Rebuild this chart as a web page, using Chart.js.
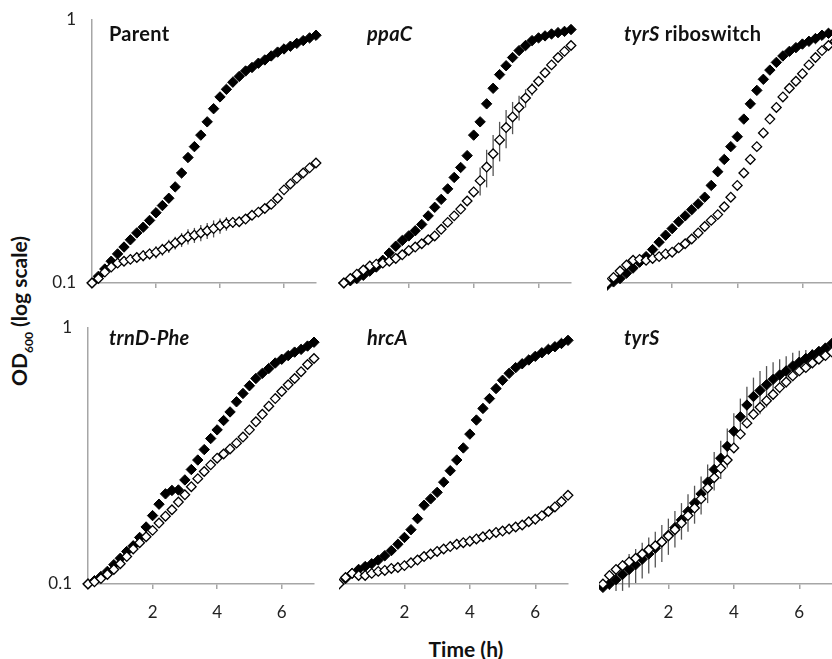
<!DOCTYPE html>
<html>
<head>
<meta charset="utf-8">
<script src="https://cdn.jsdelivr.net/npm/chart.js@4"></script>
<style>
  body { margin: 0; background: #fff; width: 832px; height: 659px; overflow: hidden; position: relative; font-family: Lato, sans-serif; }
  canvas { position: absolute; }
  .ttl { position: absolute; font: bold 20px Lato, sans-serif; letter-spacing: 0.3px; color: #111; white-space: nowrap; line-height: 22px; }
  #xtitle { position: absolute; left: 466px; top: 648px; transform: translate(-50%, -50%); font: bold 21px Lato, sans-serif; color: #111; white-space: nowrap; }
  #ytitle { position: absolute; left: 21px; top: 311px; transform: translate(-50%, -50%) rotate(-90deg); font: bold 21px Lato, sans-serif; color: #111; white-space: nowrap; }
  #ytitle sub { font-size: 12px; }
</style>
</head>
<body>
<div id="xtitle">Time (h)</div>
<div id="ytitle">OD<sub>600</sub> (log scale)</div>
<script>
'use strict';

// sampling times (h)
const hours = [0, 0.2, 0.4, 0.6, 0.8, 1, 1.2, 1.4, 1.6, 1.8, 2, 2.2, 2.4, 2.6, 2.8, 3, 3.2, 3.4,
               3.6, 3.8, 4, 4.2, 4.4, 4.6, 4.8, 5, 5.2, 5.4, 5.6, 5.8, 6, 6.2, 6.4, 6.6, 6.8, 7];

const xTicks = [2, 4, 6];
const yTicks = [0.1, 1];

// Parent
const parentFilled = [0.100, 0.106, 0.113, 0.121, 0.129, 0.137, 0.146, 0.155, 0.163, 0.173, 0.185, 0.197,
                      0.210, 0.232, 0.262, 0.300, 0.330, 0.365, 0.410, 0.460, 0.510, 0.545, 0.580, 0.610,
                      0.640, 0.660, 0.685, 0.705, 0.730, 0.755, 0.776, 0.795, 0.815, 0.835, 0.855, 0.875];
const parentOpen = [0.100, 0.104, 0.110, 0.115, 0.119, 0.121, 0.123, 0.125, 0.127, 0.129, 0.131, 0.134,
                    0.138, 0.142, 0.146, 0.150, 0.152, 0.155, 0.158, 0.161, 0.165, 0.168, 0.170, 0.171,
                    0.175, 0.181, 0.186, 0.192, 0.199, 0.210, 0.226, 0.238, 0.250, 0.262, 0.274, 0.286];
const parentOpenErr = [0, 0, 0, 0, 0, 0, 0, 0, 0.006, 0.006, 0.007, 0.007, 0.008, 0.008, 0.009, 0.010,
                       0.010, 0.011, 0.011, 0.012, 0.011, 0.010, 0.008, 0, 0, 0, 0, 0, 0, 0, 0, 0, 0, 0, 0, 0];

// ppaC
const ppaCFilled = [0.100, 0.102, 0.104, 0.107, 0.111, 0.115, 0.122, 0.130, 0.138, 0.145, 0.151, 0.158,
                    0.167, 0.180, 0.194, 0.208, 0.228, 0.252, 0.275, 0.305, 0.365, 0.410, 0.480, 0.550,
                    0.620, 0.670, 0.720, 0.765, 0.800, 0.835, 0.855, 0.870, 0.885, 0.895, 0.905, 0.920];
const ppaCOpen = [0.100, 0.104, 0.108, 0.112, 0.116, 0.118, 0.119, 0.121, 0.124, 0.128, 0.133, 0.137,
                  0.141, 0.146, 0.151, 0.160, 0.170, 0.180, 0.191, 0.205, 0.222, 0.245, 0.276, 0.310,
                  0.350, 0.390, 0.428, 0.465, 0.505, 0.545, 0.585, 0.630, 0.675, 0.720, 0.760, 0.800];
const ppaCOpenErr = [0, 0, 0, 0, 0, 0, 0, 0, 0, 0, 0, 0, 0, 0, 0, 0, 0, 0, 0, 0, 0.010, 0.030,
                     0.045, 0.055, 0.060, 0.065, 0.060, 0.050, 0.040, 0.030, 0.020, 0, 0, 0, 0, 0];

// tyrS riboswitch
const riboFilled = [0.098, 0.101, 0.104, 0.109, 0.114, 0.120, 0.126, 0.134, 0.143, 0.152, 0.161, 0.171,
                    0.180, 0.190, 0.200, 0.212, 0.235, 0.265, 0.295, 0.330, 0.360, 0.420, 0.480, 0.540,
                    0.595, 0.645, 0.690, 0.730, 0.760, 0.785, 0.810, 0.830, 0.850, 0.875, 0.890, 0.900];
const riboOpen = [0.100, 0.105, 0.111, 0.117, 0.122, 0.123, 0.122, 0.124, 0.126, 0.129, 0.131, 0.136,
                  0.141, 0.147, 0.155, 0.164, 0.173, 0.182, 0.195, 0.212, 0.235, 0.262, 0.295, 0.330,
                  0.372, 0.420, 0.465, 0.510, 0.550, 0.585, 0.625, 0.675, 0.720, 0.765, 0.800, 0.830];

// trnD-Phe
const trnFilled = [0.100, 0.103, 0.107, 0.112, 0.119, 0.126, 0.134, 0.141, 0.152, 0.167, 0.185, 0.205,
                   0.225, 0.232, 0.233, 0.255, 0.280, 0.305, 0.335, 0.370, 0.400, 0.435, 0.470, 0.515,
                   0.555, 0.595, 0.635, 0.665, 0.695, 0.730, 0.755, 0.780, 0.805, 0.825, 0.850, 0.880];
const trnOpen = [0.100, 0.102, 0.105, 0.109, 0.114, 0.120, 0.128, 0.137, 0.145, 0.153, 0.162, 0.173,
                 0.184, 0.195, 0.209, 0.223, 0.240, 0.258, 0.275, 0.292, 0.310, 0.322, 0.337, 0.355,
                 0.375, 0.400, 0.430, 0.460, 0.495, 0.530, 0.565, 0.600, 0.635, 0.675, 0.720, 0.760];

// hrcA
const hrcFilled = [0.100, 0.105, 0.110, 0.114, 0.117, 0.120, 0.124, 0.129, 0.135, 0.143, 0.152, 0.163,
                   0.180, 0.203, 0.215, 0.228, 0.250, 0.277, 0.305, 0.340, 0.385, 0.437, 0.485, 0.530,
                   0.580, 0.625, 0.665, 0.700, 0.725, 0.750, 0.775, 0.800, 0.825, 0.845, 0.870, 0.895];
const hrcOpen = [0.100, 0.106, 0.110, 0.108, 0.108, 0.110, 0.112, 0.113, 0.115, 0.116, 0.118, 0.121,
                 0.124, 0.128, 0.131, 0.134, 0.137, 0.140, 0.143, 0.145, 0.147, 0.150, 0.153, 0.156,
                 0.159, 0.161, 0.164, 0.167, 0.170, 0.175, 0.179, 0.185, 0.192, 0.200, 0.210, 0.222];

// tyrS
const tyrFilled = [0.097, 0.100, 0.104, 0.109, 0.114, 0.119, 0.125, 0.131, 0.138, 0.146, 0.155, 0.166,
                   0.178, 0.192, 0.207, 0.225, 0.250, 0.280, 0.310, 0.345, 0.395, 0.450, 0.500, 0.540,
                   0.570, 0.600, 0.630, 0.655, 0.680, 0.710, 0.735, 0.760, 0.785, 0.810, 0.835, 0.870];
const tyrOpen = [0.100, 0.108, 0.114, 0.118, 0.122, 0.126, 0.131, 0.136, 0.141, 0.146, 0.154, 0.163,
                 0.173, 0.185, 0.198, 0.215, 0.237, 0.260, 0.283, 0.305, 0.340, 0.385, 0.425, 0.460,
                 0.490, 0.520, 0.550, 0.585, 0.615, 0.650, 0.680, 0.700, 0.730, 0.755, 0.780, 0.805];
const tyrFilledErr = [0, 0.005, 0.010, 0.015, 0.017, 0.018, 0.020, 0.021, 0.022, 0.024, 0.025, 0.027,
                      0.029, 0.032, 0.035, 0.038, 0.043, 0.048, 0.053, 0.060, 0.070, 0.080, 0.090, 0.100,
                      0.110, 0.110, 0.105, 0.100, 0.095, 0.090, 0.080, 0.060, 0.040, 0.030, 0.020, 0.010];

const panels = [
  { title: 'Parent', filled: parentFilled, open: parentOpen, openErr: parentOpenErr, xMin: 0,
    left: 92, top: 20, w: 224, h: 263, showY: true, showX: false, tx: 109, ty: 33 },
  { title: '<i>ppaC</i>', filled: ppaCFilled, open: ppaCOpen, openErr: ppaCOpenErr, xMin: -0.18,
    left: 338, top: 20, w: 233, h: 263, showY: false, showX: false, tx: 367, ty: 33 },
  { title: '<i>tyrS</i> riboswitch', filled: riboFilled, open: riboOpen, xMin: 0,
    left: 607, top: 20, w: 228, h: 263, showY: false, showX: false, tx: 624, ty: 33 },
  { title: '<i>trnD-Phe</i>', filled: trnFilled, open: trnOpen, xMin: 0,
    left: 88, top: 328, w: 226, h: 256, showY: true, showX: true, tx: 109, ty: 337 },
  { title: '<i>hrcA</i>', filled: hrcFilled, open: hrcOpen, xMin: 0,
    left: 339, top: 328, w: 229, h: 256, showY: false, showX: true, tx: 367, ty: 337 },
  { title: '<i>tyrS</i>', filled: tyrFilled, open: tyrOpen, filledErr: tyrFilledErr, xMin: -0.12,
    left: 599, top: 328, w: 233, h: 256, showY: false, showX: true, tx: 624, ty: 337 }
];

// vertical error bars, drawn under the markers
const errorBars = {
  id: 'errorBars',
  beforeDatasetsDraw(chart) {
    const { ctx, scales: { x, y } } = chart;
    ctx.save();
    ctx.strokeStyle = '#555';
    ctx.lineWidth = 1.3;
    chart.data.datasets.forEach(ds => {
      if (!ds.errors) return;
      ds.data.forEach((p, i) => {
        const e = ds.errors[i];
        if (!e) return;
        const px = x.getPixelForValue(p.x);
        ctx.beginPath();
        ctx.moveTo(px, y.getPixelForValue(p.y - e));
        ctx.lineTo(px, y.getPixelForValue(p.y + e));
        ctx.stroke();
      });
    });
    ctx.restore();
  }
};

const toPoints = vals => vals.map((v, i) => ({ x: hours[i], y: v }));
const axisGrey = '#a6a6a6';
const tickFont = { family: 'Lato', size: 17 };

function makePanel(p) {
  const yw = p.showY ? 70 : 0;
  const xh = p.showX ? 50 : 12;
  const padTop = 12, padRight = 12;

  const canvas = document.createElement('canvas');
  canvas.width = yw + p.w + padRight;
  canvas.height = padTop + p.h + xh;
  canvas.style.left = (p.left - yw) + 'px';
  canvas.style.top = (p.top - padTop) + 'px';
  document.body.appendChild(canvas);

  const label = document.createElement('div');
  label.className = 'ttl';
  label.innerHTML = p.title;
  label.style.left = p.tx + 'px';
  label.style.top = (p.ty - 11) + 'px';
  document.body.appendChild(label);

  new Chart(canvas, {
    type: 'scatter',
    data: {
      datasets: [
        { data: toPoints(p.open), errors: p.openErr, pointStyle: 'rectRot', pointRadius: 4.8,
          backgroundColor: '#fff', borderColor: '#000', borderWidth: 1.3, clip: false },
        { data: toPoints(p.filled), errors: p.filledErr, pointStyle: 'rectRot', pointRadius: 5.2,
          backgroundColor: '#000', borderColor: '#000', borderWidth: 1, clip: false }
      ]
    },
    options: {
      responsive: false,
      animation: false,
      events: [],
      layout: { autoPadding: false, padding: { top: padTop, right: padRight, left: 0, bottom: 0 } },
      plugins: { legend: { display: false }, tooltip: { enabled: false } },
      scales: {
        x: {
          type: 'linear', min: p.xMin, max: 7,
          afterBuildTicks: s => { s.ticks = xTicks.map(v => ({ value: v })); },
          afterFit: s => { s.height = xh; s.paddingLeft = 0; s.paddingRight = 0; },
          grid: { drawOnChartArea: false, drawTicks: true, tickLength: 5, color: axisGrey, lineWidth: 1.5 },
          border: { color: axisGrey, width: 1.5 },
          ticks: { display: p.showX, padding: 13, color: '#222', font: tickFont }
        },
        y: {
          type: 'logarithmic', min: 0.1, max: 1, display: p.showY,
          afterBuildTicks: s => { s.ticks = yTicks.map(v => ({ value: v })); },
          afterFit: s => { s.width = yw; s.paddingTop = 0; s.paddingBottom = 0; },
          grid: { drawOnChartArea: false, drawTicks: false },
          border: { color: axisGrey, width: 1.5 },
          ticks: { padding: 16, color: '#222', font: tickFont, callback: v => String(v) }
        }
      }
    },
    plugins: [errorBars]
  });
}

panels.forEach(makePanel);
</script>
</body>
</html>
